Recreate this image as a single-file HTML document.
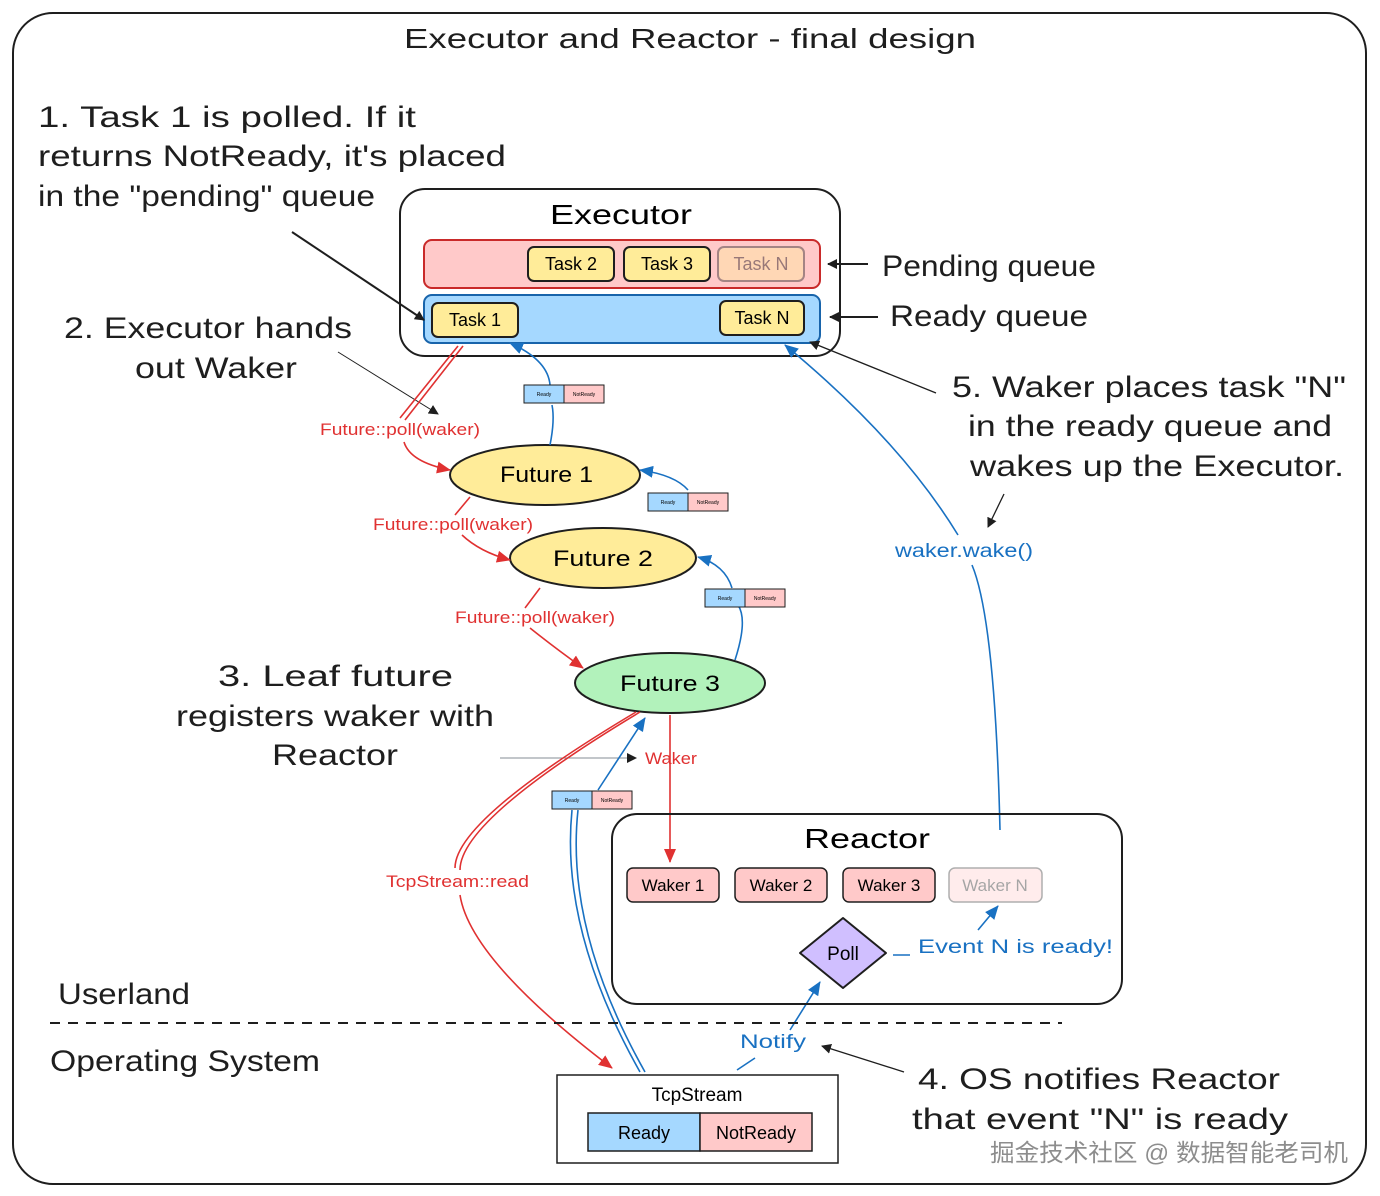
<!DOCTYPE html>
<html><head><meta charset="utf-8"><style>
html,body{margin:0;padding:0;background:#fff}
svg{display:block}
text{font-family:"Liberation Sans","Noto Sans CJK SC",sans-serif}
</style></head><body>
<svg width="1380" height="1196" viewBox="0 0 1380 1196" xmlns="http://www.w3.org/2000/svg">
<defs>
<marker id="ak" markerWidth="10" markerHeight="10" refX="9" refY="5" orient="auto" markerUnits="userSpaceOnUse"><path d="M0,0 L10,5 L0,10 z" fill="#1e1e1e"/></marker>
<marker id="ar" markerWidth="14" markerHeight="14" refX="13" refY="7" orient="auto" markerUnits="userSpaceOnUse"><path d="M0,1 L14,7 L0,13 z" fill="#e03131"/></marker>
<marker id="ab" markerWidth="14" markerHeight="14" refX="13" refY="7" orient="auto" markerUnits="userSpaceOnUse"><path d="M0,1 L14,7 L0,13 z" fill="#1971c2"/></marker>
</defs>
<rect x="13" y="13" width="1353" height="1171" rx="40" fill="none" stroke="#1e1e1e" stroke-width="2"/>
<text x="404" y="48" font-size="28" fill="#1e1e1e" textLength="572" lengthAdjust="spacingAndGlyphs">Executor and Reactor - final design</text>
<g font-size="30" fill="#1e1e1e">
<text x="38" y="127" textLength="378" lengthAdjust="spacingAndGlyphs">1. Task 1 is polled. If it</text>
<text x="38" y="166" textLength="468" lengthAdjust="spacingAndGlyphs">returns NotReady, it's placed</text>
<text x="38" y="206" textLength="337" lengthAdjust="spacingAndGlyphs">in the "pending" queue</text>
<text x="64" y="338" textLength="288" lengthAdjust="spacingAndGlyphs">2. Executor hands</text>
<text x="135" y="378" textLength="162" lengthAdjust="spacingAndGlyphs">out Waker</text>
<text x="882" y="276" textLength="214" lengthAdjust="spacingAndGlyphs">Pending queue</text>
<text x="890" y="326" textLength="198" lengthAdjust="spacingAndGlyphs">Ready queue</text>
<text x="952" y="397" textLength="394" lengthAdjust="spacingAndGlyphs">5. Waker places task "N"</text>
<text x="968" y="436" textLength="364" lengthAdjust="spacingAndGlyphs">in the ready queue and</text>
<text x="970" y="476" textLength="374" lengthAdjust="spacingAndGlyphs">wakes up the Executor.</text>
<text x="218" y="686" textLength="235" lengthAdjust="spacingAndGlyphs">3. Leaf future</text>
<text x="176" y="726" textLength="318" lengthAdjust="spacingAndGlyphs">registers waker with</text>
<text x="272" y="765" textLength="126" lengthAdjust="spacingAndGlyphs">Reactor</text>
<text x="58" y="1004" textLength="132" lengthAdjust="spacingAndGlyphs">Userland</text>
<text x="50" y="1071" textLength="270" lengthAdjust="spacingAndGlyphs">Operating System</text>
<text x="918" y="1089" textLength="362" lengthAdjust="spacingAndGlyphs">4. OS notifies Reactor</text>
<text x="912" y="1129" textLength="376" lengthAdjust="spacingAndGlyphs">that event "N" is ready</text>
</g>
<!-- Executor -->
<rect x="400" y="189" width="440" height="167" rx="25" fill="none" stroke="#1e1e1e" stroke-width="2"/>
<text x="550" y="224" font-size="28" textLength="142" lengthAdjust="spacingAndGlyphs">Executor</text>
<rect x="424" y="240" width="396" height="48" rx="8" fill="#ffc9c9" stroke="#c92a2a" stroke-width="2"/>
<rect x="424" y="295" width="396" height="48" rx="8" fill="#a5d8ff" stroke="#1864ab" stroke-width="2"/>
<g font-size="18" text-anchor="middle">
<rect x="528" y="247" width="86" height="34" rx="6" fill="#ffec99" stroke="#1e1e1e" stroke-width="2"/><text x="571" y="270">Task 2</text>
<rect x="624" y="247" width="86" height="34" rx="6" fill="#ffec99" stroke="#1e1e1e" stroke-width="2"/><text x="667" y="270">Task 3</text>
<g opacity="0.4"><rect x="718" y="247" width="86" height="34" rx="6" fill="#ffec99" stroke="#1e1e1e" stroke-width="2"/><text x="761" y="270">Task N</text></g>
<rect x="432" y="303" width="86" height="34" rx="6" fill="#ffec99" stroke="#1e1e1e" stroke-width="2"/><text x="475" y="326">Task 1</text>
<rect x="720" y="301" width="84" height="34" rx="6" fill="#ffec99" stroke="#1e1e1e" stroke-width="2"/><text x="762" y="324">Task N</text>
</g>
<g stroke="#1e1e1e" stroke-width="2" fill="none">
<line x1="868" y1="264" x2="828" y2="264" marker-end="url(#ak)"/>
<line x1="878" y1="317" x2="830" y2="317" marker-end="url(#ak)"/>
<line x1="292" y1="232" x2="424" y2="320" marker-end="url(#ak)"/>
<line x1="936" y1="393" x2="810" y2="342" stroke-width="1.3" marker-end="url(#ak)"/>
<line x1="1004" y1="494" x2="988" y2="527" stroke-width="1.3" marker-end="url(#ak)"/>
<line x1="904" y1="1072" x2="822" y2="1046" stroke-width="1.3" marker-end="url(#ak)"/>
</g>
<line x1="338" y1="352" x2="438" y2="414" stroke="#1e1e1e" stroke-width="1" marker-end="url(#ak)"/>
<line x1="500" y1="758" x2="636" y2="758" stroke="#868e96" stroke-width="1" marker-end="url(#ak)"/>
<!-- Futures -->
<ellipse cx="545" cy="475" rx="95" ry="30" fill="#ffec99" stroke="#1e1e1e" stroke-width="2"/>
<text x="500" y="482" font-size="22" textLength="93" lengthAdjust="spacingAndGlyphs">Future 1</text>
<ellipse cx="603" cy="558" rx="93" ry="30" fill="#ffec99" stroke="#1e1e1e" stroke-width="2"/>
<text x="553" y="566" font-size="22" textLength="100" lengthAdjust="spacingAndGlyphs">Future 2</text>
<ellipse cx="670" cy="683" rx="95" ry="30" fill="#b2f2bb" stroke="#1e1e1e" stroke-width="2"/>
<text x="620" y="691" font-size="22" textLength="100" lengthAdjust="spacingAndGlyphs">Future 3</text>
<!-- red arrows -->
<g stroke="#e03131" stroke-width="1.6" fill="none">
<path d="M463,346 L405,420" /><path d="M458,346 L400,418"/>
<path d="M404,442 Q410,462 450,470" marker-end="url(#ar)"/>
<path d="M470,497 L455,515"/>
<path d="M462,535 Q480,552 510,560" marker-end="url(#ar)"/>
<path d="M540,588 L525,608"/>
<path d="M530,628 Q555,648 583,668" marker-end="url(#ar)"/>
<path d="M670,715 L670,862" marker-end="url(#ar)"/>
<path d="M640,712 Q460,820 460,870"/><path d="M636,712 Q455,820 455,868"/>
<path d="M460,895 Q470,960 612,1068" marker-end="url(#ar)"/>
</g>
<g fill="#e03131" font-size="17">
<text x="320" y="435" textLength="160" lengthAdjust="spacingAndGlyphs">Future::poll(waker)</text>
<text x="373" y="530" textLength="160" lengthAdjust="spacingAndGlyphs">Future::poll(waker)</text>
<text x="455" y="623" textLength="160" lengthAdjust="spacingAndGlyphs">Future::poll(waker)</text>
<text x="645" y="764" textLength="52" lengthAdjust="spacingAndGlyphs">Waker</text>
<text x="386" y="887" textLength="143" lengthAdjust="spacingAndGlyphs">TcpStream::read</text>
</g>
<!-- blue arrows -->
<g stroke="#1971c2" stroke-width="1.6" fill="none">
<path d="M550,445 Q555,420 552,405"/>
<path d="M550,385 Q548,360 510,343" marker-end="url(#ab)"/>
<path d="M688,490 Q675,475 640,470" marker-end="url(#ab)"/>
<path d="M735,660 Q748,620 738,605"/>
<path d="M732,588 Q725,565 698,557" marker-end="url(#ab)"/>
<path d="M640,1072 Q560,930 572,810" /><path d="M645,1072 Q565,930 578,810"/>
<path d="M598,790 L645,718" marker-end="url(#ab)"/>
<path d="M1000,830 Q995,620 972,565"/>
<path d="M958,535 Q900,440 785,345" marker-end="url(#ab)"/>
<path d="M737,1070 L755,1058"/>
<path d="M790,1030 L820,982" marker-end="url(#ab)"/>
<path d="M893,955 L910,955"/>
<path d="M978,930 L998,906" marker-end="url(#ab)"/>
</g>
<g fill="#1971c2" font-size="19">
<text x="895" y="557" textLength="138" lengthAdjust="spacingAndGlyphs">waker.wake()</text>
<text x="740" y="1048" textLength="66" lengthAdjust="spacingAndGlyphs">Notify</text>
<text x="918" y="953" textLength="195" lengthAdjust="spacingAndGlyphs">Event N is ready!</text>
</g>
<!-- tiny Ready/NotReady boxes -->
<g font-size="5" text-anchor="middle" stroke-width="1">
<rect x="524" y="385" width="40" height="18" fill="#a5d8ff" stroke="#1e1e1e"/><rect x="564" y="385" width="40" height="18" fill="#ffc9c9" stroke="#1e1e1e"/><text x="544" y="396">Ready</text><text x="584" y="396">NotReady</text>
<rect x="648" y="493" width="40" height="18" fill="#a5d8ff" stroke="#1e1e1e"/><rect x="688" y="493" width="40" height="18" fill="#ffc9c9" stroke="#1e1e1e"/><text x="668" y="504">Ready</text><text x="708" y="504">NotReady</text>
<rect x="705" y="589" width="40" height="18" fill="#a5d8ff" stroke="#1e1e1e"/><rect x="745" y="589" width="40" height="18" fill="#ffc9c9" stroke="#1e1e1e"/><text x="725" y="600">Ready</text><text x="765" y="600">NotReady</text>
<rect x="552" y="791" width="40" height="18" fill="#a5d8ff" stroke="#1e1e1e"/><rect x="592" y="791" width="40" height="18" fill="#ffc9c9" stroke="#1e1e1e"/><text x="572" y="802">Ready</text><text x="612" y="802">NotReady</text>
</g>
<!-- Reactor -->
<rect x="612" y="814" width="510" height="190" rx="25" fill="none" stroke="#1e1e1e" stroke-width="2"/>
<text x="804" y="848" font-size="28" textLength="126" lengthAdjust="spacingAndGlyphs">Reactor</text>
<g font-size="17" text-anchor="middle">
<rect x="627" y="868" width="92" height="34" rx="6" fill="#ffc9c9" stroke="#1e1e1e" stroke-width="1.5"/><text x="673" y="891">Waker 1</text>
<rect x="735" y="868" width="92" height="34" rx="6" fill="#ffc9c9" stroke="#1e1e1e" stroke-width="1.5"/><text x="781" y="891">Waker 2</text>
<rect x="843" y="868" width="92" height="34" rx="6" fill="#ffc9c9" stroke="#1e1e1e" stroke-width="1.5"/><text x="889" y="891">Waker 3</text>
<g opacity="0.35"><rect x="949" y="868" width="93" height="34" rx="6" fill="#ffc9c9" stroke="#1e1e1e" stroke-width="1.5"/><text x="995" y="891">Waker N</text></g>
</g>
<path d="M843,918 L886,953 L843,988 L800,953 Z" fill="#d0bfff" stroke="#1e1e1e" stroke-width="2" stroke-linejoin="round"/>
<text x="843" y="960" font-size="19" text-anchor="middle">Poll</text>
<line x1="50" y1="1023" x2="1062" y2="1023" stroke="#1e1e1e" stroke-width="2" stroke-dasharray="10,8"/>
<!-- TcpStream -->
<rect x="557" y="1075" width="281" height="88" fill="none" stroke="#1e1e1e" stroke-width="1.5"/>
<text x="697" y="1101" font-size="19" text-anchor="middle">TcpStream</text>
<rect x="588" y="1113" width="112" height="38" fill="#a5d8ff" stroke="#1e1e1e" stroke-width="1.5"/>
<rect x="700" y="1113" width="112" height="38" fill="#ffc9c9" stroke="#1e1e1e" stroke-width="1.5"/>
<text x="644" y="1139" font-size="18" text-anchor="middle">Ready</text>
<text x="756" y="1139" font-size="18" text-anchor="middle">NotReady</text>
<text x="990" y="1161" font-size="24" fill="#7a7a7a" opacity="0.85" textLength="358" lengthAdjust="spacingAndGlyphs">掘金技术社区 @ 数据智能老司机</text>
</svg>
</body></html>
